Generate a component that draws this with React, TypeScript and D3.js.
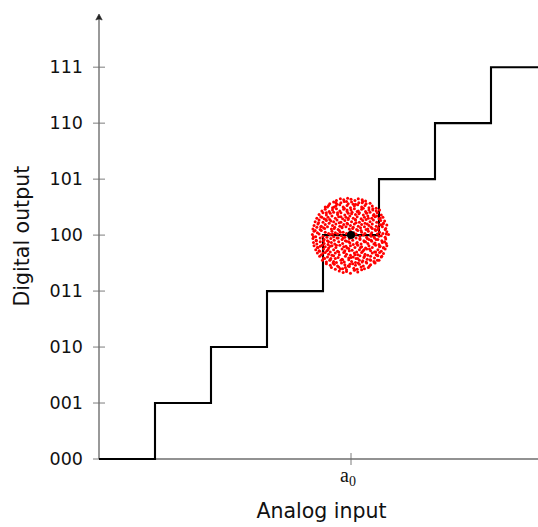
import React from "react";
import * as d3 from "d3";

const codeLabels = ["000", "001", "010", "011", "100", "101", "110", "111"];
const codeLevels = [0, 1, 2, 3, 4, 5, 6, 7];
// staircase: [analog input, digital code]
const stairPoints: [number, number][] = [
  [0, 0], [1, 1], [2, 2], [3, 3], [4, 4], [5, 5], [6, 6], [7, 7], [8, 7],
];
const a0 = 4.5;
const a0Code = 4;
// noise cloud around (a0, 100): offsets in hundredths of a unit [dx, dy]
const cloud: [number, number][] = [
  [-21,-64],[-14,-67],[-8,-65],[-1,-68],[6,-63],[12,-66],[19,-62],
  [-35,-58],[-28,-61],[-22,-57],[-15,-60],[-8,-62],[-3,-56],[5,-59],[11,-61],[18,-57],[24,-60],[31,-58],
  [-44,-51],[-37,-54],[-30,-52],[-24,-55],[-17,-50],[-11,-53],[-5,-55],[3,-51],[8,-54],[15,-52],[22,-55],[28,-50],[35,-53],[42,-49],
  [-51,-45],[-44,-48],[-37,-44],[-31,-47],[-26,-49],[-18,-45],[-12,-48],[-4,-44],[1,-47],[8,-49],[15,-45],[21,-46],[27,-48],[34,-44],[41,-47],[47,-45],
  [-56,-38],[-49,-41],[-42,-39],[-36,-42],[-31,-37],[-23,-40],[-16,-43],[-10,-38],[-4,-41],[4,-39],[9,-42],[16,-37],[23,-40],[29,-43],[35,-38],[42,-41],[48,-37],[54,-39],
  [-60,-32],[-53,-35],[-46,-31],[-40,-34],[-34,-36],[-28,-32],[-21,-35],[-13,-31],[-8,-34],[-1,-36],[6,-32],[12,-35],[19,-31],[25,-34],[30,-36],[38,-32],[45,-35],[51,-31],[58,-33],
  [-63,-26],[-56,-29],[-49,-25],[-43,-28],[-37,-30],[-31,-26],[-24,-29],[-16,-25],[-11,-28],[-4,-24],[2,-27],[10,-30],[15,-26],[21,-29],[28,-25],[35,-28],[42,-30],[48,-26],[54,-29],[61,-25],
  [-66,-19],[-59,-22],[-52,-18],[-46,-21],[-40,-23],[-34,-19],[-27,-22],[-20,-18],[-13,-21],[-7,-23],[-1,-19],[7,-22],[12,-18],[19,-21],[26,-23],[32,-19],[38,-22],[44,-18],[51,-21],[58,-23],[64,-19],
  [-67,-13],[-61,-16],[-55,-12],[-48,-15],[-41,-17],[-35,-13],[-29,-16],[-22,-12],[-15,-15],[-8,-11],[-2,-14],[4,-17],[11,-13],[18,-16],[24,-12],[30,-15],[37,-11],[43,-14],[50,-17],[56,-13],[63,-15],
  [-68,-6],[-62,-9],[-55,-5],[-48,-8],[-42,-10],[-36,-6],[-30,-9],[-23,-5],[-16,-8],[-10,-10],[-3,-6],[3,-9],[9,-5],[16,-8],[23,-10],[29,-6],[36,-9],[42,-5],[48,-8],[55,-10],[62,-7],
  [-69,1],[-63,-3],[-57,2],[-50,-2],[-43,-4],[-37,1],[-31,-3],[-24,2],[-17,-1],[-11,-4],[-4,1],[2,-3],[9,2],[16,-2],[22,0],[28,-4],[35,1],[41,-3],[47,2],[54,-1],[61,-4],[67,1],
  [-66,7],[-60,4],[-53,8],[-46,5],[-40,3],[-34,7],[-28,4],[-21,8],[-14,5],[-8,3],[-1,7],[5,4],[12,8],[19,5],[25,3],[31,7],[37,4],[44,8],[51,5],[57,3],[64,6],
  [-68,11],[-61,14],[-55,10],[-49,13],[-42,15],[-35,11],[-29,14],[-23,10],[-16,13],[-9,15],[-3,11],[4,14],[10,10],[17,13],[24,15],[30,11],[36,14],[43,10],[49,13],[56,15],[62,12],
  [-66,17],[-59,20],[-53,16],[-46,19],[-39,21],[-33,17],[-27,20],[-20,16],[-13,19],[-7,21],[-1,17],[6,20],[13,16],[19,19],[25,21],[32,17],[38,20],[45,16],[51,19],[58,21],[64,18],
  [-64,24],[-57,27],[-50,23],[-44,26],[-38,28],[-31,24],[-25,27],[-18,23],[-11,26],[-5,28],[1,24],[8,27],[15,23],[21,26],[27,28],[34,24],[40,27],[46,23],[53,26],[60,25],
  [-61,30],[-54,33],[-48,29],[-41,32],[-34,34],[-28,30],[-22,33],[-15,29],[-9,32],[-2,34],[4,30],[11,33],[18,29],[24,32],[30,34],[37,30],[43,33],[50,29],[57,32],
  [-57,37],[-50,40],[-44,36],[-37,39],[-31,41],[-24,37],[-18,40],[-11,36],[-5,39],[2,41],[8,37],[15,40],[22,36],[28,39],[34,41],[41,37],[47,40],[54,36],
  [-52,43],[-46,46],[-39,42],[-33,45],[-26,47],[-20,43],[-13,46],[-7,42],[0,45],[6,47],[13,43],[19,46],[26,42],[32,45],[39,47],[45,43],[51,45],
  [-46,50],[-40,53],[-33,49],[-27,52],[-20,54],[-14,50],[-7,53],[-1,49],[6,52],[12,54],[19,50],[25,53],[32,49],[38,52],[45,48],
  [-38,56],[-31,59],[-25,55],[-18,58],[-12,60],[-5,56],[1,59],[8,55],[14,58],[21,60],[27,56],[34,57],
  [-26,62],[-19,65],[-13,63],[-6,66],[0,64],[7,62],[13,65],[20,63],[26,61],
  [-55,-20],[-47,12],[-38,-45],[-30,50],[-25,-5],[-18,33],[-10,-58],[-6,20],[0,-40],[4,55],
  [10,-15],[14,38],[20,-48],[27,10],[33,-25],[39,45],[45,-8],[52,30],[55,-38],
  [-62,-10],[-58,22],[-50,-32],[-44,40],[-40,-12],[-36,25],[-32,-50],[-27,58],[-22,-30],[-19,5],
  [-15,-44],[-12,48],[-9,-20],[-5,30],[-2,-52],[3,12],[7,-35],[11,42],[16,-6],[20,58],
  [24,-38],[29,20],[33,-55],[36,-2],[40,35],[44,-30],[48,10],[52,-20],[57,20],[60,-12],
  [63,2],[-64,8],[-57,-28],[-52,32],[-47,-42],[-42,50],[-37,-20],[-33,2],[-28,-42],[-24,40],
  [-19,-60],[-16,15],[-12,-30],[-8,60],[-4,-12],[1,38],[6,-62],[9,22],[13,-50],[17,-22],
  [22,48],[26,-12],[31,30],[35,-45],[38,12],[43,-50],[46,34],[50,-2],[54,18],[58,-22],
  [61,10],[-67,-3],[-60,-22],[-54,15],[-49,-10],[-45,28],[-41,-26],[-30,12],[-26,-18],[-21,22],
  [-14,-5],[-7,45],[-3,-28],[5,0],[8,28],[12,-42],[18,8],[23,-26],[27,40],[32,-8],
  [41,-16],[47,-36],[50,-45],
];

const W = 538;
const H = 527;

export default function App() {
  const x = d3.scaleLinear().domain([0, 8]).range([99, 547]);
  const y = d3.scaleLinear().domain([0, 7.95]).range([459, 14]);
  const stair = d3
    .line<[number, number]>()
    .x((d) => x(d[0]))
    .y((d) => y(d[1]))
    .curve(d3.curveStepAfter)(stairPoints) as string;
  const axisColor = "#6e6e6e";
  const sans = "'DejaVu Sans', sans-serif";
  return (
    <svg
      width={W}
      height={H}
      style={{ position: "absolute", left: 0, top: 0, background: "#fff" }}
    >
      {/* axes */}
      <line x1={x(0)} x2={W} y1={y(0)} y2={y(0)} stroke={axisColor} strokeWidth={1.4} />
      <line x1={x(0)} x2={x(0)} y1={y(0)} y2={y(7.95) + 2} stroke={axisColor} strokeWidth={1.4} />
      <path
        d={`M${x(0)},${y(7.95)} l-3.2,6 q3.2,-2 6.4,0 z`}
        fill="#222"
        stroke="#222"
        strokeWidth={0.6}
      />
      {codeLevels.map((v, i) => (
        <g key={i}>
          <line x1={x(0) - 6} x2={x(0) + 6} y1={y(v)} y2={y(v)} stroke={axisColor} strokeWidth={0.9} />
          <text
            x={83}
            y={y(v)}
            dy="0.36em"
            textAnchor="end"
            fontFamily={sans}
            fontSize={17.5}
            fill="#111"
          >
            {codeLabels[i]}
          </text>
        </g>
      ))}
      <line x1={x(a0)} x2={x(a0)} y1={y(0) - 6} y2={y(0) + 6} stroke={axisColor} strokeWidth={0.9} />
      <text
        x={x(a0) - 11}
        y={482}
        fontFamily="'Liberation Serif', serif"
        fontSize={20}
        fill="#111"
      >
        a
        <tspan fontSize={14} dy={3.5}>0</tspan>
      </text>
      {/* staircase */}
      <path d={stair} fill="none" stroke="#000" strokeWidth={2.1} />
      {/* noise cloud */}
      {cloud.map((p, i) => (
        <circle
          key={i}
          cx={x(a0 + p[0] / 100)}
          cy={y(a0Code + p[1] / 100)}
          r={1.5}
          fill="#ff0000"
        />
      ))}
      <circle cx={x(a0)} cy={y(a0Code)} r={4} fill="#000" />
      {/* axis titles */}
      <text
        x={(x(0) + W) / 2 + 3}
        y={518}
        textAnchor="middle"
        fontFamily={sans}
        fontSize={20.5}
        fill="#111"
      >
        Analog input
      </text>
      <text
        transform={`translate(29,${y(4) + 1}) rotate(-90)`}
        textAnchor="middle"
        fontFamily={sans}
        fontSize={20.5}
        fill="#111"
      >
        Digital output
      </text>
    </svg>
  );
}
